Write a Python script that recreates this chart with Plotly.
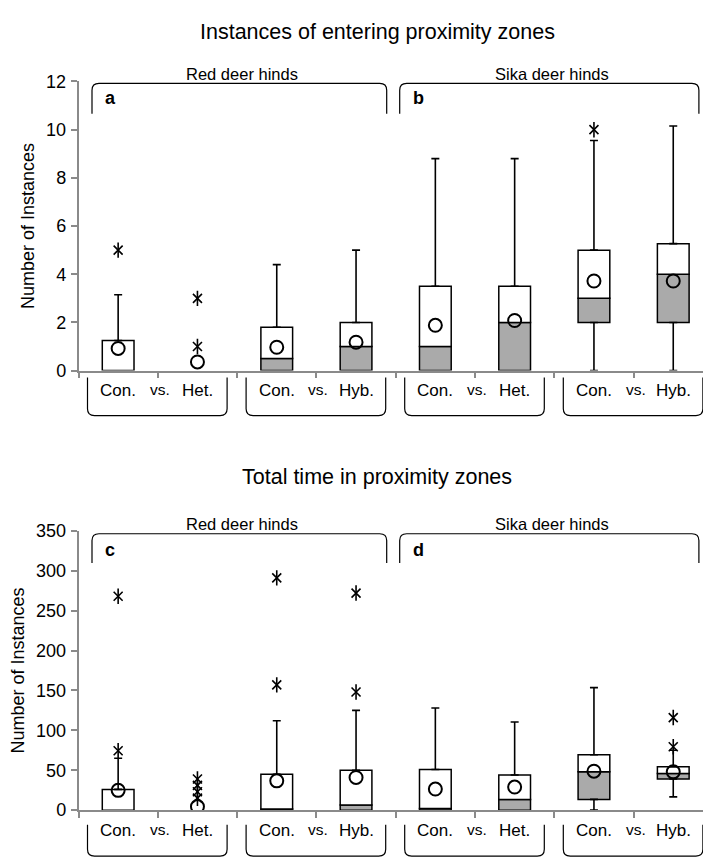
import plotly.graph_objects as go

# ---------------- data ----------------
categories = ["Con.", "Het.", "Con.", "Hyb.", "Con.", "Het.", "Con.", "Hyb."]
pair_word = "vs."
groups = ["Red deer hinds", "Sika deer hinds"]
panel_letters = ["a", "b", "c", "d"]
titles = ["Instances of entering proximity zones", "Total time in proximity zones"]
y_title = "Number of Instances"

# panel a/b : instances of entering proximity zones
inst_q1 = [0, 0, 0, 0, 0, 0, 2, 2]
inst_median = [0, 0, 0.5, 1, 1, 2, 3, 4]
inst_q3 = [1.25, 0, 1.8, 2, 3.5, 3.5, 5, 5.27]
inst_lower = [0, 0, 0, 0, 0, 0, 0, 0]
inst_upper = [3.15, 0, 4.4, 5, 8.8, 8.8, 9.55, 10.15]
inst_mean = [0.92, 0.36, 0.97, 1.18, 1.88, 2.08, 3.72, 3.72]
inst_out_idx = [0, 1, 1, 6]
inst_out_val = [5, 1, 3, 10]

# panel c/d : total time in proximity zones
time_q1 = [0, 0, 0, 0, 0, 0, 13.5, 39]
time_median = [0, 0, 1.5, 6.5, 2, 13.5, 48, 46]
time_q3 = [26, 0, 45, 50, 51, 44, 69.5, 54.5]
time_lower = [0, 0, 0, 0, 0, 0, 0, 16.7]
time_upper = [65, 0, 112, 125, 128, 110.5, 153.5, 75]
time_mean = [24.8, 4.5, 36.7, 41, 26.5, 29, 48.8, 48]
time_out_idx = [0, 0, 1, 1, 1, 1, 2, 2, 3, 3, 7, 7]
time_out_val = [74.5, 268, 39, 31, 23, 15, 157, 291, 148, 272, 79.5, 116]

# ---------------- layout helpers (pixels -> paper) ----------------
W, H = 711, 861
X0, SLOT = 70.5, 79.3
FONT = "Liberation Sans, Arial, sans-serif"
GRAY = "#aaaaaa"
AXC = "#8a8a8a"


def xpx(v):
    return X0 + (v + 0.5) * SLOT


def px(x):
    return x / W


def py(y):
    return 1 - y / H


def nz(vals):
    return [v if v > 0 else None for v in vals]


panels = [
    dict(q1=inst_q1, med=inst_median, q3=inst_q3, lo=inst_lower, hi=inst_upper,
         mean=inst_mean, oi=inst_out_idx, ov=inst_out_val,
         ytop=65, ybot=361, yrange=[0, 12], dtick=2,
         title_y=14, grp_y=57, br_top=67, br_bot=98, letter_y=82,
         lab_y=381, lb_top=368, lb_bot=407, ytitle_x=20),
    dict(q1=time_q1, med=time_median, q3=time_q3, lo=time_lower, hi=time_upper,
         mean=time_mean, oi=time_out_idx, ov=time_out_val,
         ytop=525, ybot=811, yrange=[0, 350], dtick=50,
         title_y=470, grp_y=518, br_top=528, br_bot=558, letter_y=545,
         lab_y=832, lb_top=826, lb_bot=858, ytitle_x=10),
]

fig = go.Figure()
shapes, annos = [], []
ncat = len(categories)
xs = list(range(ncat))

for p, P in enumerate(panels):
    xa = "x" if p == 0 else "x2"
    ya = "y" if p == 0 else "y2"
    # lower (grey) part of the box: Q1 -> median
    fig.add_trace(go.Bar(
        x=xs, base=P["q1"], y=nz([m - a for m, a in zip(P["med"], P["q1"])]),
        width=0.4, marker=dict(color=GRAY, line=dict(color="black", width=1.5)),
        xaxis=xa, yaxis=ya, showlegend=False, hoverinfo="skip"))
    # upper (white) part: median -> Q3
    fig.add_trace(go.Bar(
        x=xs, base=P["med"], y=nz([q - m for q, m in zip(P["q3"], P["med"])]),
        width=0.4, marker=dict(color="white", line=dict(color="black", width=1.5)),
        xaxis=xa, yaxis=ya, showlegend=False, hoverinfo="skip"))
    # upper whiskers
    ui = [i for i in xs if P["hi"][i] > P["q3"][i]]
    fig.add_trace(go.Scatter(
        x=ui, y=[P["q3"][i] for i in ui], mode="markers",
        marker=dict(size=1, color="rgba(0,0,0,0)"),
        error_y=dict(type="data", symmetric=False,
                     array=[P["hi"][i] - P["q3"][i] for i in ui],
                     arrayminus=[0] * len(ui), color="black", thickness=1.6, width=4),
        xaxis=xa, yaxis=ya, showlegend=False, hoverinfo="skip"))
    # lower whiskers
    li = [i for i in xs if P["lo"][i] < P["q1"][i]]
    if li:
        fig.add_trace(go.Scatter(
            x=li, y=[P["q1"][i] for i in li], mode="markers",
            marker=dict(size=1, color="rgba(0,0,0,0)"),
            error_y=dict(type="data", symmetric=False,
                         array=[0] * len(li),
                         arrayminus=[P["q1"][i] - P["lo"][i] for i in li],
                         color="black", thickness=1.6, width=4),
            xaxis=xa, yaxis=ya, showlegend=False, hoverinfo="skip"))
    # means
    fig.add_trace(go.Scatter(
        x=xs, y=P["mean"], mode="markers",
        marker=dict(symbol="circle-open", size=13, color="black", line=dict(width=2)),
        xaxis=xa, yaxis=ya, showlegend=False, hoverinfo="skip"))
    # outliers (asterisks: x + vertical bar)
    for sym, sz in (("x-thin-open", 9), ("line-ns-open", 11)):
        fig.add_trace(go.Scatter(
            x=P["oi"], y=P["ov"], mode="markers",
            marker=dict(symbol=sym, size=sz, color="black", line=dict(width=1.6, color="black")),
            xaxis=xa, yaxis=ya, showlegend=False, hoverinfo="skip"))

    # titles
    annos.append(dict(text=titles[p], x=px(369), y=py(P["title_y"]), xref="paper", yref="paper",
                      showarrow=False, font=dict(size=21.5, color="black", family=FONT),
                      xanchor="center", yanchor="middle"))
    # y-axis title
    annos.append(dict(text=y_title, x=px(P["ytitle_x"]), y=py((P["ytop"] + P["ybot"]) / 2),
                      xref="paper", yref="paper", showarrow=False, textangle=-90,
                      font=dict(size=18, color="black", family=FONT),
                      xanchor="center", yanchor="middle"))

    # species brackets on top
    for g in range(2):
        left = xpx(4 * g - 0.5) + (13.5 if g == 0 else 4)
        right = xpx(4 * g + 3.5) - (9 if g == 0 else 14)
        r = 7
        t, b = P["br_top"], P["br_bot"]
        path = (f"M {px(left)},{py(b)} L {px(left)},{py(t + r)} "
                f"Q {px(left)},{py(t)} {px(left + r)},{py(t)} "
                f"L {px(right - r)},{py(t)} Q {px(right)},{py(t)} {px(right)},{py(t + r)} "
                f"L {px(right)},{py(b)}")
        shapes.append(dict(type="path", path=path, xref="paper", yref="paper",
                           line=dict(color="black", width=1.2)))
        annos.append(dict(text=groups[g], x=px((left + right) / 2 + 3), y=py(P["grp_y"]),
                          xref="paper", yref="paper", showarrow=False,
                          font=dict(size=16.5, color="black", family=FONT),
                          xanchor="center", yanchor="middle"))
        annos.append(dict(text="<b>" + panel_letters[2 * p + g] + "</b>",
                          x=px(left + 11), y=py(P["letter_y"]), xref="paper", yref="paper",
                          showarrow=False, font=dict(size=18, color="black", family=FONT),
                          xanchor="left", yanchor="middle"))

    # comparison brackets and labels below the axis
    for k in range(4):
        a, b2 = 2 * k, 2 * k + 1
        left = xpx(a - 0.5) + 9
        right = xpx(b2 + 0.5) - 10
        r = 7
        t, bb = P["lb_top"], P["lb_bot"]
        path = (f"M {px(left)},{py(t)} L {px(left)},{py(bb - r)} "
                f"Q {px(left)},{py(bb)} {px(left + r)},{py(bb)} "
                f"L {px(right - r)},{py(bb)} Q {px(right)},{py(bb)} {px(right)},{py(bb - r)} "
                f"L {px(right)},{py(t)}")
        shapes.append(dict(type="path", path=path, xref="paper", yref="paper",
                           line=dict(color="black", width=1.2)))
        for idx in (a, b2):
            annos.append(dict(text=categories[idx], x=px(xpx(idx)), y=py(P["lab_y"]),
                              xref="paper", yref="paper", showarrow=False,
                              font=dict(size=17, color="black", family=FONT),
                              xanchor="center", yanchor="middle"))
        annos.append(dict(text=pair_word, x=px(xpx(a + 0.5) + 2), y=py(P["lab_y"] - 1),
                          xref="paper", yref="paper", showarrow=False,
                          font=dict(size=15.5, color="black", family=FONT),
                          xanchor="center", yanchor="middle"))

xdom = [px(X0), px(xpx(ncat - 0.5))]
xaxis_common = dict(range=[-0.5, ncat - 0.5], domain=xdom, showgrid=False, zeroline=False,
                    showline=True, linecolor=AXC, linewidth=1.5,
                    tickmode="array", tickvals=[i - 0.5 for i in range(ncat + 1)],
                    ticks="outside", ticklen=6, tickcolor=AXC, tickwidth=1.5,
                    showticklabels=False, fixedrange=True)


def yaxis_common(P):
    return dict(range=P["yrange"], domain=[py(P["ybot"]), py(P["ytop"])], showgrid=False,
                zeroline=False, showline=True, linecolor=AXC, linewidth=1.5,
                dtick=P["dtick"], tick0=0, ticks="outside", ticklen=6, tickcolor=AXC,
                tickwidth=1.5, tickfont=dict(size=18, color="black", family=FONT),
                ticklabelstandoff=1, fixedrange=True)


fig.update_layout(
    width=W, height=H, margin=dict(l=0, r=0, t=0, b=0),
    paper_bgcolor="white", plot_bgcolor="white",
    barmode="overlay", showlegend=False,
    font=dict(family=FONT, color="black"),
    xaxis=dict(**xaxis_common, anchor="y"),
    yaxis=dict(**yaxis_common(panels[0]), anchor="x"),
    xaxis2=dict(**xaxis_common, anchor="y2"),
    yaxis2=dict(**yaxis_common(panels[1]), anchor="x2"),
    shapes=shapes, annotations=annos,
)

fig.write_html("out.html")
